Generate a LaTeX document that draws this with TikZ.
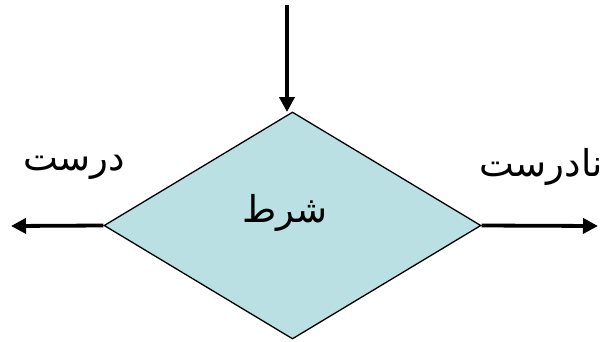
\documentclass[tikz,border=0pt]{standalone}
\usepackage{fontspec}
\TeXXeTstate=1
\newfontfamily\arabicfont[Script=Arabic]{DejaVu Sans}
\usetikzlibrary{shapes.geometric,arrows.meta}
\definecolor{dfill}{HTML}{BBE0E3}
\tikzset{
  cond/.style={diamond, draw=black, line width=1.3pt, fill=dfill, inner sep=0pt,
    minimum width=377pt, minimum height=227pt},
  flow/.style={line width=3.8pt, -{Triangle[length=15pt,width=15pt]}},
  lbl/.style={font=\arabicfont\fontsize{37}{40}\selectfont, inner sep=0pt}
}
\begin{document}
\begin{tikzpicture}[x=1pt,y=-1pt]
\useasboundingbox (0,0) rectangle (603,341);
\node[cond] (d) at (292.5,225.5) {};
\coordinate (topstart) at (287,5);
\coordinate (topend) at (287,112);
\coordinate (leftend) at (11,226);
\coordinate (rightend) at (598,226);
\draw[flow] (topstart) -- (topend);
\draw[flow] (d.west) -- (leftend);
\draw[flow] (d.east) -- (rightend);
\node[lbl] (t) at (285,213) {\beginR شرط\endR};
\node[lbl] (yes) at (74,167) {\beginR درست\endR};
\node[lbl, anchor=east] (no) at (603,167) {\beginR نادرست\endR};
\end{tikzpicture}
\end{document}
